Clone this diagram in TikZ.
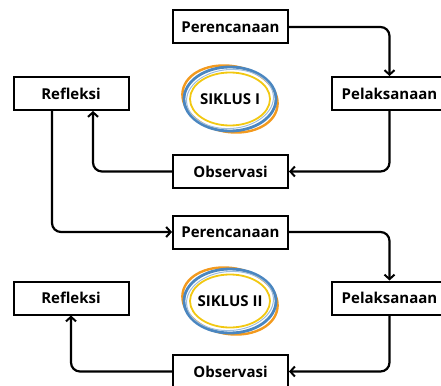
\documentclass[tikz,border=0pt]{standalone}
\usepackage{fontspec}
\setmainfont{Open Sans}
\usetikzlibrary{arrows.meta}
\tikzset{
  tahap/.style={draw, line width=2pt, minimum width=115pt, minimum height=33pt,
    inner sep=0pt, font=\fontsize{15}{17}\selectfont\bfseries},
  alur/.style={line width=2.2pt, rounded corners=9pt},
  >={Straight Barb[length=4.5pt,width=10pt,line width=2pt]}
}
\definecolor{biru}{HTML}{4A86C0}
\definecolor{jingga}{HTML}{F39A1E}
\definecolor{kuning}{HTML}{F2C811}
\newcommand{\cincin}[2]{%
  \draw[jingga, line width=2.4pt, rotate around={-10:(#1)}] (#1) ellipse (48pt and 33pt);
  \draw[biru, line width=2.8pt] (#1) ellipse (46pt and 32pt);
  \draw[biru!55, line width=1pt, rotate around={4:(#1)}] (#1) ellipse (43.5pt and 29.5pt);
  \draw[kuning, line width=1.8pt, fill=white] (#1) ellipse (40pt and 26.5pt);
  \node[font=\fontsize{15}{17}\selectfont\bfseries] at (#1) {#2};
}
\begin{document}
\begin{tikzpicture}[x=1pt, y=-1pt]
  \useasboundingbox (0,0) rectangle (441,385);

  % siklus I
  \node[tahap] (plan1) at (230.5, 27) {Perencanaan};
  \node[tahap] (pel1) at (389.5, 93.5) {Pelaksanaan};
  \node[tahap] (obs1) at (230.5, 171.5) {Observasi};
  \node[tahap] (refl1) at (71, 93.5) {Refleksi};
  \cincin{230,99}{SIKLUS I}

  \draw[alur, ->] (plan1.east) -| (pel1.north);
  \draw[alur, ->] (pel1.south) |- (obs1.east);
  \draw[alur, ->] (obs1.west) -| ([xshift=22pt]refl1.south);

  % siklus II
  \node[tahap] (plan2) at (230.5, 232) {Perencanaan};
  \node[tahap] (pel2) at (389.5, 298) {Pelaksanaan};
  \node[tahap] (obs2) at (230.5, 371.5) {Observasi};
  \node[tahap] (refl2) at (71, 298) {Refleksi};
  \cincin{230,301}{SIKLUS II}

  \draw[alur, ->] ([xshift=-19pt]refl1.south) |- (plan2.west);
  \draw[alur, ->] (plan2.east) -| (pel2.north);
  \draw[alur, ->] (pel2.south) |- (obs2.east);
  \draw[alur, ->] (obs2.west) -| (refl2.south);
\end{tikzpicture}
\end{document}
